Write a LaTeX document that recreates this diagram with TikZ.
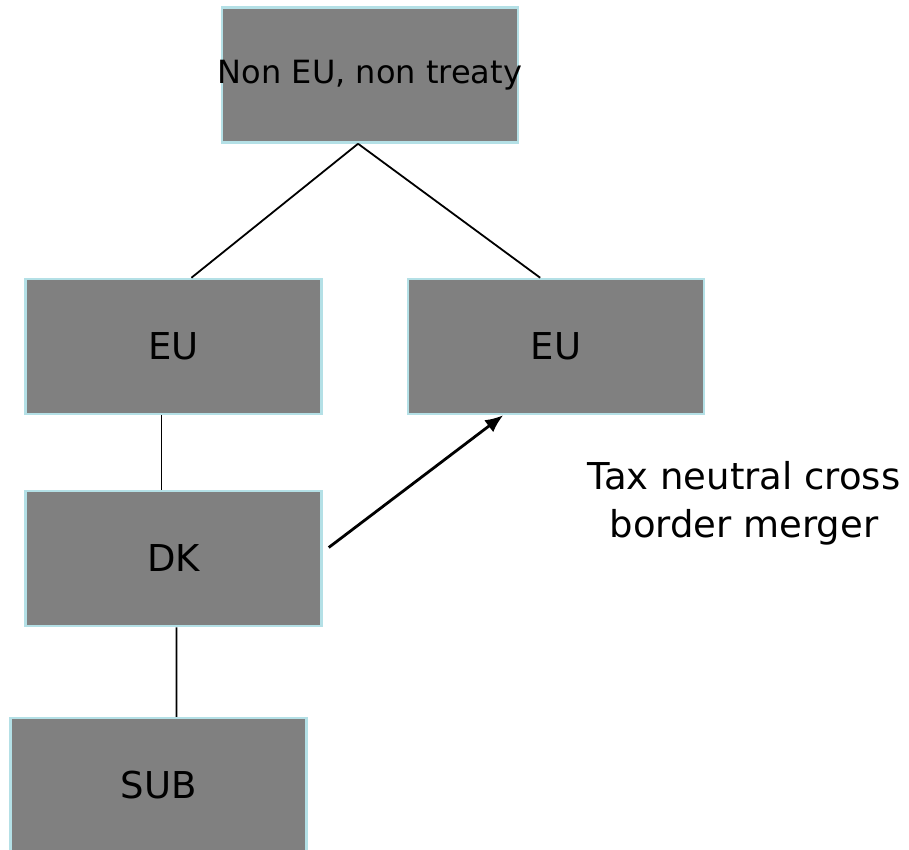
\documentclass[tikz,border=0pt]{standalone}
\usepackage{fontspec}
\setmainfont{DejaVu Sans}
\usetikzlibrary{calc, arrows.meta}
\definecolor{boxfill}{RGB}{128,128,128}
\definecolor{boxline}{RGB}{180,224,230}
\tikzset{
  box/.style={draw=boxline, line width=2.5pt, fill=boxfill, minimum width=296pt, minimum height=135pt, inner sep=0pt, font=\fontsize{37}{44}\selectfont},
  link/.style={draw=black, line width=1.8pt},
}
\begin{document}
\begin{tikzpicture}[x=1pt, y=-1pt]
\useasboundingbox (0,0) rectangle (909,850);

% Boxes
\node[box] (top) at (370,75) {};
\node[font=\fontsize{32}{38}\selectfont, inner sep=0pt] (toptext) at (top.center) {Non EU, non treaty};
\node[box] (euleft) at (173.5,346.5) {EU};
\node[box] (euright) at (556,346.5) {EU};
\node[box] (dk) at (173.5,558.5) {DK};
\node[box] (sub) at (158.5,785.5) {SUB};

% Ownership lines
\coordinate (topfoot) at ($(top.south west)!0.46!(top.south east)$);
\draw[link] (topfoot) -- ($(euleft.north west)!0.56!(euleft.north east)$);
\draw[link] (topfoot) -- ($(euright.north west)!0.447!(euright.north east)$);
\draw[link] ($(euleft.south west)!0.46!(euleft.south east)$) -- ($(dk.north west)!0.46!(dk.north east)$);
\draw[link] ($(dk.south west)!0.51!(dk.south east)$) -- ($(sub.north west)!0.56!(sub.north east)$);

% Merger
\draw[line width=2.8pt, -{Latex[length=18pt, width=15pt]}] ($(dk.north east)!0.42!(dk.south east)+(6,0)$) -- ($(euright.south west)!0.323!(euright.south east)$);
\node[align=center, font=\fontsize{37}{48}\selectfont] (merger) at (744,503) {Tax neutral cross\\border merger};

\end{tikzpicture}
\end{document}
